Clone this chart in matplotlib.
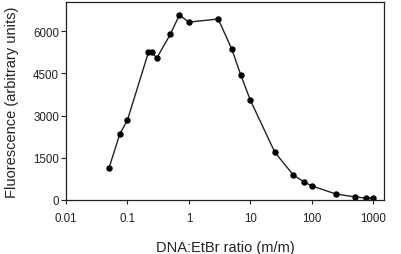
import matplotlib
matplotlib.use("Agg")
import matplotlib.pyplot as plt
from matplotlib.ticker import FixedLocator, FixedFormatter, NullLocator

ratio = [0.05, 0.075, 0.1, 0.22, 0.25, 0.3, 0.5, 0.7, 1.0, 3, 5, 7, 10,
         25, 50, 75, 100, 250, 500, 750, 1000]
fluor = [1130, 2340, 2840, 5250, 5250, 5040, 5890, 6570, 6320, 6430, 5360,
         4440, 3550, 1700, 890, 640, 500, 210, 110, 70, 70]

xticks = [0.01, 0.1, 1, 10, 100, 1000]
xticklabels = ["0.01", "0.1", "1", "10", "100", "1000"]
yticks = [0, 1500, 3000, 4500, 6000]
yticklabels = ["0", "1500", "3000", "4500", "6000"]

plt.rcParams['font.family'] = ['Liberation Sans', 'DejaVu Sans']

fig = plt.figure(figsize=(4.01, 2.55), dpi=100)
ax = fig.add_axes([0.1646, 0.2118, 0.793, 0.776])
ax.plot(ratio, fluor, color='#222222', lw=1.0, marker='o', ms=3.6,
        mfc='black', mec='black')
ax.set_xscale('log')
ax.set_xlim(0.01, 1500)
ax.set_ylim(0, 7030)
ax.xaxis.set_major_locator(FixedLocator(xticks))
ax.xaxis.set_major_formatter(FixedFormatter(xticklabels))
ax.xaxis.set_minor_locator(NullLocator())
ax.set_yticks(yticks)
ax.set_yticklabels(yticklabels)
ax.tick_params(axis='x', direction='out', length=3, width=0.8, labelsize=8.3, pad=5.5, colors='#222222')
ax.tick_params(axis='y', direction='out', length=3.5, width=0.8, labelsize=8.3, pad=1.5, colors='#222222')
for s in ax.spines.values():
    s.set_linewidth(0.9)
    s.set_color('#222222')
ax.set_xlabel('DNA:EtBr ratio (m/m)', fontsize=10.5, color='#222222', labelpad=12)
ax.set_ylabel('Fluorescence (arbitrary units)', fontsize=10.5, color='#222222', labelpad=10)
fig.savefig('out.png', dpi=100)
